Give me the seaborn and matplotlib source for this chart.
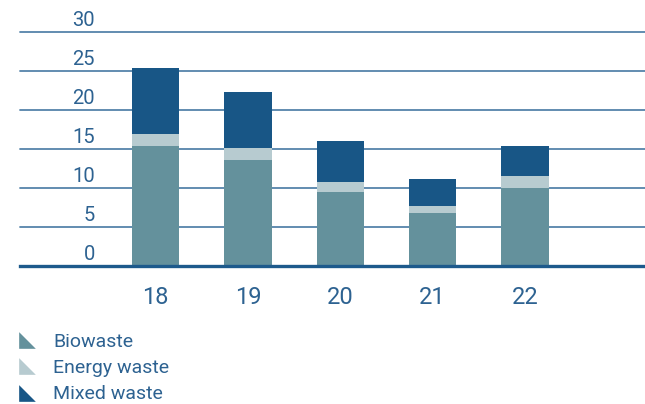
import numpy as np
import pandas as pd
import matplotlib
matplotlib.use("Agg")
import matplotlib.pyplot as plt
import matplotlib.transforms as mtransforms
from matplotlib.lines import Line2D
import seaborn as sns

# ----------------------------------
# Data
# ----------------------------------
years = ["18", "19", "20", "21", "22"]
biowaste = [15.3, 13.6, 9.5, 6.8, 10.0]
energy_waste = [1.6, 1.5, 1.2, 0.9, 1.5]
mixed_waste = [8.5, 7.2, 5.3, 3.4, 3.9]
y_ticks = [0, 5, 10, 15, 20, 25, 30]
legend_labels = ["Biowaste", "Energy waste", "Mixed waste"]

# colours
C_BIO = "#64919c"
C_ENERGY = "#b7cbd0"
C_MIXED = "#185686"
C_TEXT = "#2d6291"
C_GRID = "#5584aa"
C_BASE = "#1d5a8c"

sns.set_style("white")
plt.rcParams["font.family"] = ["Roboto", "DejaVu Sans"]

df = pd.DataFrame({
    "year": years,
    "bio": biowaste,
    "energy": energy_waste,
    "mixed": mixed_waste,
})
df["bio_energy"] = df["bio"] + df["energy"]
df["total"] = df["bio_energy"] + df["mixed"]

fig = plt.figure(figsize=(6.45, 4.04), dpi=100)
ax = fig.add_axes([20 / 645, (404 - 265.5) / 404, 625 / 645, 233.5 / 404])

# stacked bars: draw totals first, then overlay the lower segments
for col, colour in [("total", C_MIXED), ("bio_energy", C_ENERGY), ("bio", C_BIO)]:
    sns.barplot(data=df, x="year", y=col, color=colour, width=0.51,
                saturation=1, linewidth=0, ax=ax, zorder=3)

ax.set_xlim(-1.47, 5.3)
ax.set_ylim(0, 30)
ax.set_xlabel("")
ax.set_ylabel("")

# grid lines
ax.set_yticks(y_ticks)
ax.yaxis.grid(True, color=C_GRID, linewidth=1.3, zorder=1)
ax.set_axisbelow(True)
for gl in ax.get_ygridlines():
    gl.set_clip_on(False)

for s in ["top", "right", "left"]:
    ax.spines[s].set_visible(False)
ax.spines["bottom"].set_color(C_BASE)
ax.spines["bottom"].set_linewidth(2.4)
ax.spines["bottom"].set_zorder(4)

# y tick labels sit above their grid lines, inside the plot area
ax.tick_params(axis="y", length=0, pad=0, labelsize=14.5, labelcolor=C_TEXT)
offset = mtransforms.ScaledTranslation(75 / 100, 2 / 100, fig.dpi_scale_trans)
for lab in ax.get_yticklabels():
    lab.set_verticalalignment("bottom")
    lab.set_transform(lab.get_transform() + offset)

ax.tick_params(axis="x", length=0, pad=14.5, labelsize=17, labelcolor=C_TEXT)

# legend with triangle markers
tri = [(-1, 1), (-1, -1), (1, -1), (-1, 1)]
handles = [
    Line2D([], [], linestyle="none", marker=tri, markersize=12,
           markerfacecolor=c, markeredgecolor="none")
    for c in [C_BIO, C_ENERGY, C_MIXED]
]
leg = fig.legend(handles, legend_labels, loc="upper left",
                 bbox_to_anchor=(15 / 645, 1 - 333 / 404),
                 frameon=False, fontsize=14, labelcolor=C_TEXT,
                 handlelength=1.2, handletextpad=0.75, labelspacing=0.42,
                 borderaxespad=0, borderpad=0)

fig.savefig("out.png", dpi=100)
